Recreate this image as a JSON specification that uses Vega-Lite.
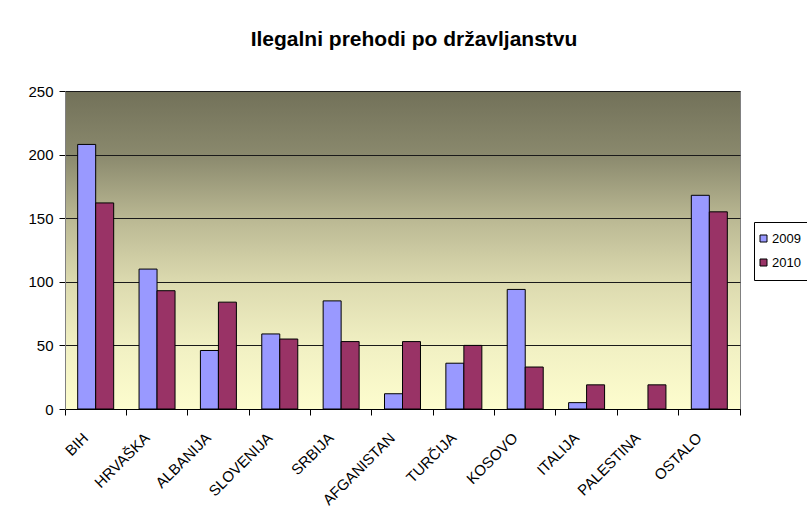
{
  "$schema": "https://vega.github.io/schema/vega-lite/v6.json",
  "width": 675,
  "height": 318,
  "autosize": "none",
  "padding": {"left": 65, "top": 91, "right": 67, "bottom": 118},
  "background": "white",
  "title": {
    "text": "Ilegalni prehodi po državljanstvu",
    "font": "Liberation Sans",
    "fontSize": 21,
    "fontWeight": "bold",
    "color": "black",
    "anchor": "middle",
    "dx": 11.5,
    "baseline": "alphabetic",
    "offset": 17
  },
  "data": {
    "values": [
      {"drzava": "BIH", "leto": "2009", "stevilo": 208},
      {"drzava": "BIH", "leto": "2010", "stevilo": 162},
      {"drzava": "HRVAŠKA", "leto": "2009", "stevilo": 110},
      {"drzava": "HRVAŠKA", "leto": "2010", "stevilo": 93},
      {"drzava": "ALBANIJA", "leto": "2009", "stevilo": 46},
      {"drzava": "ALBANIJA", "leto": "2010", "stevilo": 84},
      {"drzava": "SLOVENIJA", "leto": "2009", "stevilo": 59},
      {"drzava": "SLOVENIJA", "leto": "2010", "stevilo": 55},
      {"drzava": "SRBIJA", "leto": "2009", "stevilo": 85},
      {"drzava": "SRBIJA", "leto": "2010", "stevilo": 53},
      {"drzava": "AFGANISTAN", "leto": "2009", "stevilo": 12},
      {"drzava": "AFGANISTAN", "leto": "2010", "stevilo": 53},
      {"drzava": "TURČIJA", "leto": "2009", "stevilo": 36},
      {"drzava": "TURČIJA", "leto": "2010", "stevilo": 50},
      {"drzava": "KOSOVO", "leto": "2009", "stevilo": 94},
      {"drzava": "KOSOVO", "leto": "2010", "stevilo": 33},
      {"drzava": "ITALIJA", "leto": "2009", "stevilo": 5},
      {"drzava": "ITALIJA", "leto": "2010", "stevilo": 19},
      {"drzava": "PALESTINA", "leto": "2010", "stevilo": 19},
      {"drzava": "OSTALO", "leto": "2009", "stevilo": 168},
      {"drzava": "OSTALO", "leto": "2010", "stevilo": 155}
    ]
  },
  "mark": {"type": "bar", "stroke": "black", "strokeWidth": 1, "opacity": 1},
  "encoding": {
    "x": {
      "field": "drzava",
      "type": "nominal",
      "sort": null,
      "scale": {"paddingInner": 0, "paddingOuter": 0},
      "axis": {
        "title": null,
        "bandPosition": 1,
        "tickExtra": true,
        "labelOffset": -15,
        "labelAngle": -45,
        "labelAlign": "right",
        "labelBaseline": "top",
        "labelPadding": 15,
        "labelFontSize": 15,
        "labelColor": "black",
        "labelOverlap": false,
        "tickSize": 6,
        "tickColor": "black",
        "domainColor": "black",
        "grid": false
      }
    },
    "xOffset": {
      "field": "leto",
      "type": "nominal",
      "scale": {"domain": ["2009", "2010"], "paddingInner": 0, "paddingOuter": 0.705}
    },
    "y": {
      "field": "stevilo",
      "type": "quantitative",
      "scale": {"domain": [0, 250], "nice": false},
      "axis": {
        "title": null,
        "values": [0, 50, 100, 150, 200, 250],
        "grid": true,
        "gridColor": "#1a1a1a",
        "gridWidth": 1,
        "tickSize": 6,
        "tickColor": "black",
        "domainColor": "#808080",
        "labelFontSize": 15,
        "labelPadding": 6,
        "labelColor": "black"
      }
    },
    "color": {
      "field": "leto",
      "type": "nominal",
      "scale": {"domain": ["2009", "2010"], "range": ["#9999FF", "#993366"]},
      "legend": {
        "title": null,
        "orient": "none",
        "legendX": 689,
        "legendY": 131,
        "fillColor": "white",
        "strokeColor": "black",
        "padding": 10,
        "symbolType": "square",
        "symbolSize": 49,
        "symbolOffset": -7,
        "symbolStrokeColor": "black",
        "symbolStrokeWidth": 1,
        "symbolOpacity": 1,
        "labelFontSize": 13,
        "labelColor": "black",
        "labelOffset": 2,
        "rowPadding": 10
      }
    }
  },
  "config": {
    "font": "Liberation Sans",
    "view": {
      "stroke": "#808080",
      "fill": {
        "gradient": "linear",
        "x1": 0, "x2": 0, "y1": 0, "y2": 1,
        "stops": [
          {"offset": 0, "color": "#727159"},
          {"offset": 0.2, "color": "#8a896d"},
          {"offset": 0.4, "color": "#bab893"},
          {"offset": 0.6, "color": "#dcdaaf"},
          {"offset": 0.8, "color": "#f1f0c3"},
          {"offset": 1, "color": "#fdfdce"}
        ]
      }
    }
  }
}
